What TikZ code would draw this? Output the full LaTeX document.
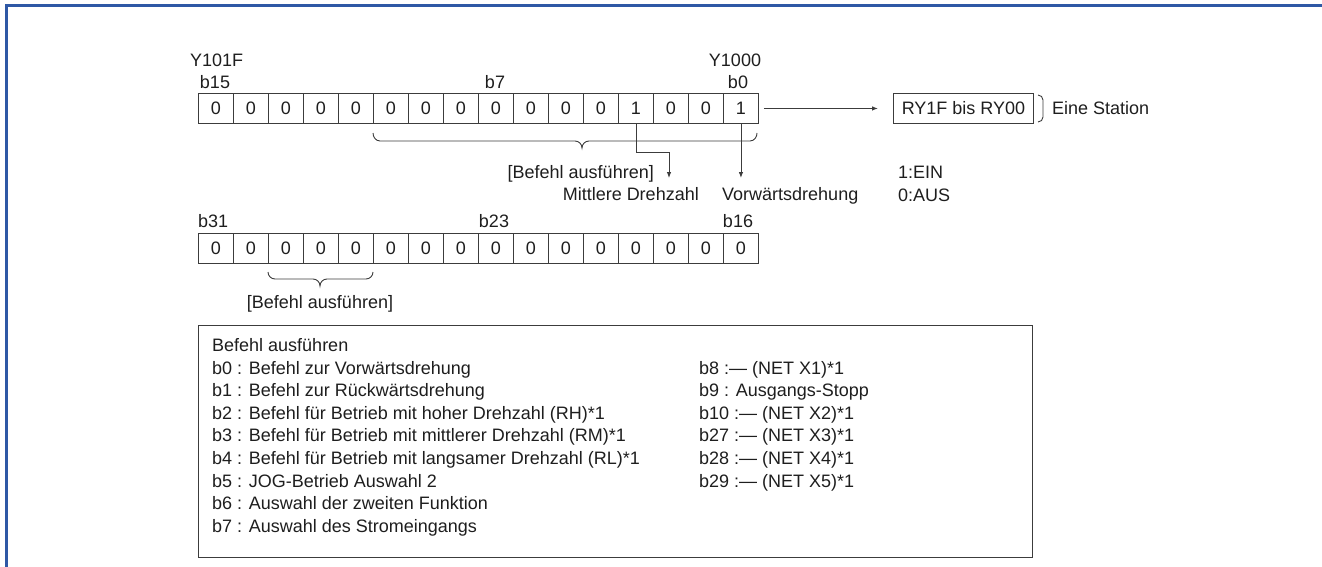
\documentclass[tikz,border=0pt]{standalone}
\usepackage{fontspec}
\setmainfont{Liberation Sans}
\usetikzlibrary{arrows.meta}
\definecolor{frameblue}{RGB}{47,88,165}
\definecolor{ink}{RGB}{30,30,30}
\definecolor{rulegray}{RGB}{60,60,60}

\begin{document}
\begin{tikzpicture}[x=1pt,y=-1pt,
  txt/.style={font=\fontsize{18}{22}\selectfont, text=ink, inner sep=0pt,
              text height=13.5pt, text depth=0.6pt},
  cell/.style={txt, draw=rulegray, line width=0.9pt, minimum width=35pt,
               minimum height=30pt, anchor=north west},
  ln/.style={draw=rulegray, line width=0.9pt},
  arr/.style={ln, -{Latex[length=6pt,width=4.5pt]}},
]
\useasboundingbox (0,0) rectangle (1322,567);

% page frame (top and left rules)
\draw[frameblue, line width=2.5pt] (6.5,567) -- (6.5,5.5) -- (1322,5.5);

% ---- lower word: b15 ... b0 ----
\foreach \i/\v in {0/0,1/0,2/0,3/0,4/0,5/0,6/0,7/0,8/0,9/0,10/0,11/0,12/1,13/0,14/0,15/1}
  \node[cell] (a\i) at ({198+35*\i},93) {\v};

\node[txt, anchor=west] (ylo) at (190,60) {Y101F};
\node[txt] (b15) at (215,82) {b15};
\node[txt] (b7) at (495,82) {b7};
\node[txt] (yhi) at (735,60) {Y1000};
\node[txt] (b0) at (738,82) {b0};

% link to the remote register range
\node[txt, draw=rulegray, line width=0.9pt, minimum width=140pt, minimum height=30pt,
      anchor=north west] (ry) at (893,93) {RY1F bis RY00};
\draw[arr] ([xshift=5pt]a15.east) -- ([xshift=-15pt]ry.west);
\draw[ln] (1038,95) to[out=0,in=90] (1043,100) -- (1043,117) to[out=-90,in=0] (1038,122);
\node[txt, anchor=west] (station) at (1052,108) {Eine Station};

% brace under b10 ... b0
\draw[ln] (373,133) to[out=-90,in=180] (380,141) -- (575,141)
          to[out=0,in=90] (582,148) to[out=90,in=180] (589,141) -- (750,141)
          to[out=0,in=-90] (757,133);

% bit callouts
\coordinate (bend) at (669,152);
\coordinate (mtip) at (669,178);
\coordinate (vtip) at (a15.south |- mtip);
\draw[arr] (a12.south) |- (bend) -- (mtip);
\draw[arr] (a15.south) -- (vtip);

\node[txt, anchor=east] (cmd1) at (654,172) {[Befehl ausführen]};
\node[txt, anchor=east] (mid) at (699,194) {Mittlere Drehzahl};
\node[txt, anchor=west] (fwd) at (722,194) {Vorwärtsdrehung};
\node[txt, anchor=west] (on) at (898,172) {1:EIN};
\node[txt, anchor=west] (off) at (898,195) {0:AUS};

% ---- upper word: b31 ... b16 ----
\foreach \i in {0,...,15}
  \node[cell] (c\i) at ({198+35*\i},233) {0};

\node[txt, anchor=west] (b31) at (198,221) {b31};
\node[txt] (b23) at (494,221) {b23};
\node[txt] (b16) at (738,221) {b16};

% brace under b29 ... b27
\draw[ln] (268,272) to[out=-90,in=180] (275,279) -- (313,279)
          to[out=0,in=90] (320,286) to[out=90,in=180] (327,279) -- (366,279)
          to[out=0,in=-90] (373,272);
\node[txt] (cmd2) at (320,302) {[Befehl ausführen]};

% ---- legend ----
\node[draw=rulegray, line width=0.9pt, minimum width=834pt, minimum height=232pt,
      anchor=north west, inner sep=0pt] (legend) at (198,325) {};

\foreach \k/\t in {0/Befehl ausführen,
                   1/b0 : Befehl zur Vorwärtsdrehung,
                   2/b1 : Befehl zur Rückwärtsdrehung,
                   3/b2 : Befehl für Betrieb mit hoher Drehzahl (RH)*1,
                   4/b3 : Befehl für Betrieb mit mittlerer Drehzahl (RM)*1,
                   5/b4 : Befehl für Betrieb mit langsamer Drehzahl (RL)*1,
                   6/b5 : JOG-Betrieb Auswahl 2,
                   7/b6 : Auswahl der zweiten Funktion,
                   8/b7 : Auswahl des Stromeingangs}
  \node[txt, anchor=west] (l\k) at (212,{345+22.6*\k}) {\t};

\foreach \k/\t in {1/b8 :— (NET X1)*1,
                   2/b9 : Ausgangs-Stopp,
                   3/b10 :— (NET X2)*1,
                   4/b27 :— (NET X3)*1,
                   5/b28 :— (NET X4)*1,
                   6/b29 :— (NET X5)*1}
  \node[txt, anchor=west] (r\k) at (699,{345+22.6*\k}) {\t};
\end{tikzpicture}
\end{document}
